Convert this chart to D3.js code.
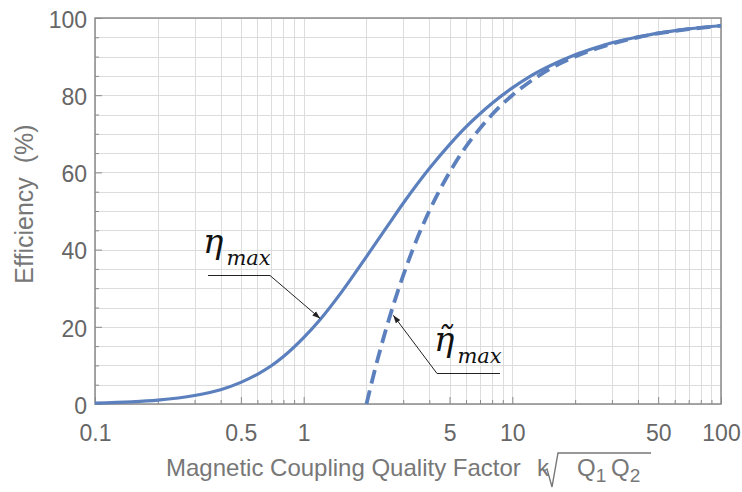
<!DOCTYPE html>
<html>
<head>
<meta charset="utf-8">
<script src="https://cdn.jsdelivr.net/npm/d3@7"></script>
<style>
  body { margin: 0; background: #fff; }
  svg { display: block; }
</style>
</head>
<body>
<svg id="chart" width="742" height="492"></svg>
<script>
// values
const etaX = [0.1, 0.15, 0.2, 0.3, 0.4, 0.5, 0.6, 0.7, 0.8, 1, 1.2, 1.5, 2, 2.5, 3, 4, 5, 6, 7, 8, 10, 12, 15, 20, 25, 30, 40, 50, 70, 100]
const etaY = [0.25, 0.56, 1.0, 2.2, 3.7, 5.6, 7.7, 9.9, 12.3, 17.2, 21.9, 28.6, 38.2, 45.8, 52.0, 61.0, 67.2, 71.8, 75.2, 77.9, 81.9, 84.7, 87.5, 90.5, 92.3, 93.6, 95.1, 96.1, 97.2, 98.0]
const approxX = [2, 2.2, 2.5, 3, 3.5, 4, 5, 6, 7, 8, 10, 12, 15, 20, 25, 30, 40, 50, 70, 100]
const approxY = [0, 9.1, 20, 33.3, 42.9, 50, 60, 66.7, 71.4, 75, 80, 83.3, 86.7, 90, 92, 93.3, 95, 96, 97.1, 98]
const xTickLabels = [0.1, 0.5, 1, 5, 10, 50, 100]
const yTickLabels = [0, 20, 40, 60, 80, 100]

const LEFT = 95, RIGHT = 721, TOP = 18, BOTTOM = 404
const BLUE = "#5b80bd"
const AXIS = "#8a8a8a"
const LABEL = "#666"
const SANS = "Liberation Sans, Arial, sans-serif"

var svg = d3.select("#chart")

var x = d3.scaleLog().domain([0.1, 100]).range([LEFT, RIGHT])
var y = d3.scaleLinear().domain([0, 100]).range([BOTTOM, TOP])

// grid: every 1..9 per decade, every 5%
var xGrid = []
for (var d = 0.1; d < 100; d *= 10)
    for (var m = 1; m < 10; m++) xGrid.push(+(d * m).toPrecision(3))
xGrid.push(100)
var yGrid = d3.range(0, 101, 5)

var grid = svg.append("g").attr("stroke", "#dcdcdc").attr("stroke-width", 1)
grid.selectAll("line.v").data(xGrid).enter().append("line")
    .attr("x1", d => Math.round(x(d)) + 0.5).attr("x2", d => Math.round(x(d)) + 0.5)
    .attr("y1", TOP).attr("y2", BOTTOM)
grid.selectAll("line.h").data(yGrid).enter().append("line")
    .attr("x1", LEFT).attr("x2", RIGHT)
    .attr("y1", d => Math.round(y(d)) + 0.5).attr("y2", d => Math.round(y(d)) + 0.5)

// frame
svg.append("rect")
    .attr("x", LEFT).attr("y", TOP)
    .attr("width", RIGHT - LEFT).attr("height", BOTTOM - TOP)
    .attr("fill", "none").attr("stroke", AXIS).attr("stroke-width", 1.5)

// axes with inward ticks
var xAxis = svg.append("g").attr("transform", "translate(0," + BOTTOM + ")")
    .call(d3.axisBottom(x).tickValues(xGrid).tickSize(0).tickFormat(""))
xAxis.select(".domain").remove()
xAxis.selectAll(".tick line").attr("stroke", AXIS)
    .attr("y2", d => xTickLabels.indexOf(d) >= 0 ? -7 : -4)

var xLab = svg.append("g").attr("transform", "translate(0," + BOTTOM + ")")
    .call(d3.axisBottom(x).tickValues(xTickLabels).tickSize(0).tickPadding(0).tickFormat(d => String(d)))
xLab.select(".domain").remove()
xLab.selectAll("text").attr("font-family", SANS)
    .attr("font-size", 23).attr("fill", LABEL).attr("dy", null).attr("y", 37)

var yAxis = svg.append("g").attr("transform", "translate(" + LEFT + ",0)")
    .call(d3.axisLeft(y).tickValues(yGrid).tickSize(0).tickFormat(""))
yAxis.select(".domain").remove()
yAxis.selectAll(".tick line").attr("stroke", AXIS)
    .attr("x2", d => d % 20 === 0 ? 7 : 4)

var yLab = svg.append("g").attr("transform", "translate(" + LEFT + ",0)")
    .call(d3.axisLeft(y).tickValues(yTickLabels).tickSize(0).tickPadding(8))
yLab.select(".domain").remove()
yLab.selectAll("text").attr("font-family", SANS)
    .attr("font-size", 23).attr("fill", LABEL).attr("dy", "0.4em")

// curves
var line = d3.line().x(d => x(d[0])).y(d => y(d[1])).curve(d3.curveMonotoneX)

svg.append("path")
    .datum(etaX.map((v, i) => [v, etaY[i]]))
    .attr("d", line)
    .attr("fill", "none").attr("stroke", BLUE).attr("stroke-width", 3.2)

svg.append("path")
    .datum(approxX.map((v, i) => [v, approxY[i]]))
    .attr("d", line)
    .attr("fill", "none").attr("stroke", BLUE).attr("stroke-width", 3.8)
    .attr("stroke-dasharray", "14,7")

// callouts
svg.append("defs").append("marker")
    .attr("id", "arr").attr("viewBox", "0 0 10 10")
    .attr("refX", 10).attr("refY", 5)
    .attr("markerWidth", 8).attr("markerHeight", 8)
    .attr("markerUnits", "userSpaceOnUse")
    .attr("orient", "auto")
    .append("path").attr("d", "M0,1.5 L10,5 L0,8.5 Z").attr("fill", "#222")

function callout(pts, tx, ty, tilde) {
    svg.append("polyline")
        .attr("points", pts.map(p => p.join(",")).join(" "))
        .attr("fill", "none").attr("stroke", "#222").attr("stroke-width", 1)
        .attr("marker-end", "url(#arr)")
    var t = svg.append("text")
        .attr("x", tx).attr("y", ty)
        .attr("font-family", "DejaVu Serif, Liberation Serif, serif")
        .attr("font-style", "italic").attr("fill", "#111")
    t.append("tspan").attr("font-size", 34).text(tilde ? "\u03B7\u0303" : "\u03B7")
    t.append("tspan").attr("font-size", 21).attr("dx", 3).attr("dy", 12).text("max")
}
callout([[208, 275.5], [270, 275.5], [x(1.2), y(21.9) - 1]], 203, 253, false)
callout([[500, 373.5], [437, 373.5], [x(2.6) + 3, y(23)]], 434, 351, true)

// axis titles
svg.append("text")
    .attr("transform", "translate(33,204) rotate(-90)")
    .attr("text-anchor", "middle")
    .attr("font-family", SANS)
    .attr("font-size", 25).attr("fill", "#777")
    .text("Efficiency\u00A0\u00A0(%)")

var xt = svg.append("text")
    .attr("y", 476)
    .attr("font-family", SANS)
    .attr("font-size", 24).attr("fill", "#777")
xt.append("tspan").attr("x", 166).text("Magnetic Coupling Quality Factor")
xt.append("tspan").attr("x", 537).text("k")
xt.append("tspan").attr("x", 577).text("Q")
xt.append("tspan").attr("font-size", 19).attr("dy", 6).text("1")
xt.append("tspan").attr("x", 611).attr("dy", -6).text("Q")
xt.append("tspan").attr("font-size", 19).attr("dy", 6).text("2")
// radical sign with bar
svg.append("path")
    .attr("d", "M544,471 L547,469 L552,487 L558,453 L651,453")
    .attr("fill", "none").attr("stroke", "#777").attr("stroke-width", 1.4)
</script>
</body>
</html>
